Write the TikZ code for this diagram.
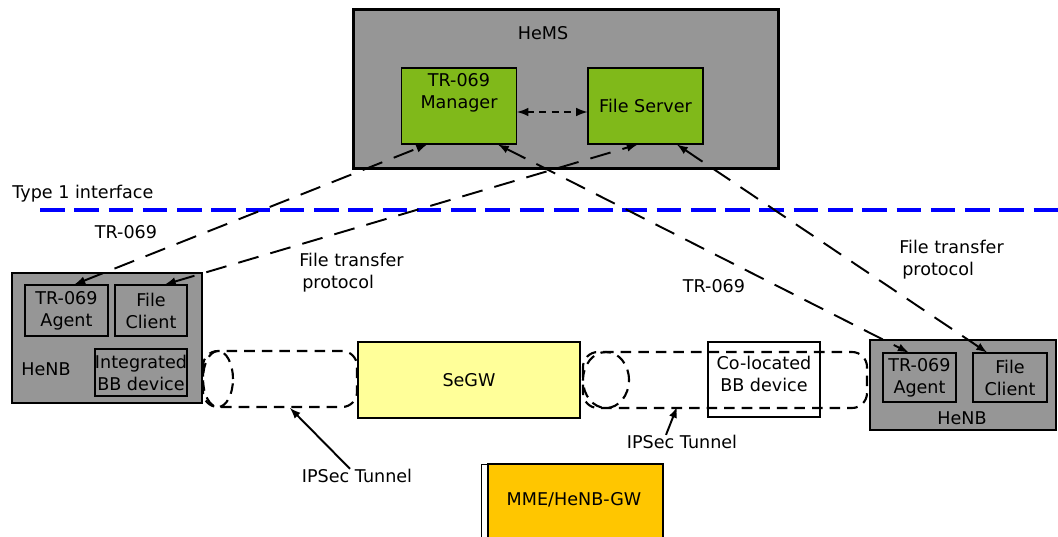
\documentclass[tikz,border=0pt]{standalone}
\usepackage{fontspec}
\setmainfont{DejaVu Sans}
\definecolor{hemsgray}{RGB}{150,150,150}
\definecolor{mgrgreen}{RGB}{128,185,26}
\definecolor{segwyellow}{RGB}{255,255,153}
\definecolor{mmeorange}{RGB}{255,198,0}
\begin{document}
\begin{tikzpicture}[x=0.02cm,y=-0.02cm,
    txt/.style={font=\fontsize{10}{12.5}\selectfont,align=center,inner sep=0pt},
    graybox/.style={draw,fill=hemsgray,line width=0.6pt,txt},
    greenbox/.style={draw,fill=mgrgreen,line width=0.6pt,txt,minimum width=2.3cm,minimum height=1.52cm},
    linkarrow/.style={latex-latex,line width=1.1pt,dash pattern=on 12pt off 7pt},
    tunnel/.style={line width=1.2pt,dash pattern=on 6pt off 4pt}]
    \useasboundingbox (0,0) rectangle (1058,537);
    \node[draw,fill=hemsgray,line width=2.2pt,minimum width=8.5cm,minimum height=3.18cm] (hems) at (566,89) {};
    \node[txt] (hemsname) at (543,33) {HeMS};
    \node[greenbox,label={[txt,anchor=north,yshift=-0.12cm]north:TR-069\\Manager}] (mgr) at (459,106) {};
    \node[greenbox] (fsrv) at (645.5,106) {File Server};
    \draw[latex-latex,line width=1.2pt,dash pattern=on 4pt off 3pt] ([yshift=-0.12cm]mgr.east) -- ([yshift=-0.12cm]fsrv.west);
    \node[txt,anchor=west] (type1) at (12,194) {Type 1 interface};
    \coordinate (ifstart) at (40,210);
    \coordinate (ifend) at (1058,210);
    \draw[blue,line width=2.8pt,dash pattern=on 14pt off 5.5pt] (ifstart) -- (ifend);
    \node[graybox,line width=1pt,minimum width=3.8cm,minimum height=2.6cm] (henbL) at (107,338) {};
    \node[graybox,minimum width=1.66cm,minimum height=1.02cm] (agL) at (66.5,310.5) {TR-069\\Agent};
    \node[graybox,minimum width=1.44cm,minimum height=1.02cm] (fcL) at (151,310.5) {File\\Client};
    \node[graybox,minimum width=1.84cm,minimum height=0.94cm] (bbL) at (141,372.5) {Integrated\\BB device};
    \node[txt] (henbLname) at (46,369) {HeNB};
    \draw[tunnel,rounded corners=0.3cm] (203,351) rectangle (357,407);
    \draw[tunnel] (218,379) ellipse [x radius=0.3cm,y radius=0.56cm];
    \node[draw,fill=segwyellow,line width=0.6pt,txt,minimum width=4.44cm,minimum height=1.52cm] (segw) at (469,380) {SeGW};
    \node[draw,fill=white,line width=0.6pt,minimum width=2.24cm,minimum height=1.5cm,label={[txt,yshift=0.11cm]center:Co-located\\BB device}] (colo) at (764,379.5) {};
    \draw[tunnel,rounded corners=0.3cm] (583,352) rectangle (867,408);
    \draw[tunnel] (606,380) ellipse [x radius=0.46cm,y radius=0.56cm];
    \node[graybox,line width=1pt,minimum width=3.72cm,minimum height=1.8cm] (henbR) at (963,385) {};
    \node[graybox,minimum width=1.46cm,minimum height=0.98cm] (agR) at (919.5,377.5) {TR-069\\Agent};
    \node[graybox,minimum width=1.48cm,minimum height=0.98cm] (fcR) at (1010,377.5) {File\\Client};
    \node[txt] (henbRname) at (962,418) {HeNB};
    \node[draw,fill=white,line width=0.6pt,minimum width=3.62cm,minimum height=1.7cm,anchor=north west] (mme) at (481,464) {};
    \filldraw[fill=mmeorange,line width=0.6pt] ([xshift=0.14cm]mme.north west) rectangle (mme.south east);
    \node[txt] (mmename) at (574,500) {MME/HeNB-GW};
    \draw[linkarrow] ([xshift=0.16cm]agL.north) -- ([xshift=-0.64cm]mgr.south);
    \draw[linkarrow] ([xshift=0.28cm]fcL.north) -- ([xshift=-0.16cm]fsrv.south);
    \draw[linkarrow] ([xshift=0.78cm]mgr.south) -- ([xshift=-0.22cm]agR.north);
    \draw[linkarrow] ([xshift=0.63cm]fsrv.south) -- ([xshift=-0.46cm]fcR.north);
    \node[txt] (tr069L) at (126,232) {TR-069};
    \node[txt,anchor=west,align=left] (ftpL) at (299,273) {File transfer\\\,protocol};
    \node[txt] (tr069R) at (714,286) {TR-069};
    \node[txt,anchor=west,align=left] (ftpR) at (899,259.5) {File transfer\\\,protocol};
    \node[txt] (ipsL) at (357,476) {IPSec Tunnel};
    \coordinate (tunL) at (290,408);
    \draw[-latex,line width=1.1pt] ([xshift=-0.14cm]ipsL.north) -- (tunL);
    \node[txt] (ipsR) at (682,442) {IPSec Tunnel};
    \coordinate (tunR) at (677,407);
    \draw[-latex,line width=1.1pt] ([xshift=-0.32cm]ipsR.north) -- (tunR);
\end{tikzpicture}
\end{document}
